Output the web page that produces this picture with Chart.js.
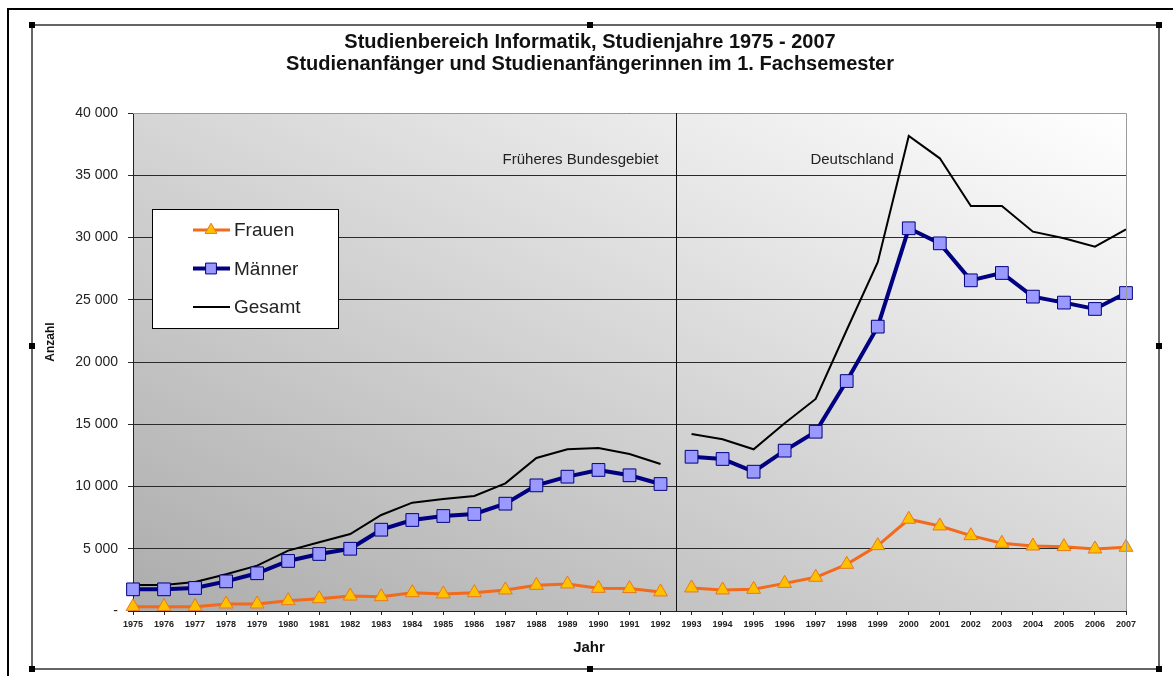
<!DOCTYPE html>
<html>
<head>
<meta charset="utf-8">
<script src="https://cdn.jsdelivr.net/npm/chart.js@4.4.0/dist/chart.umd.min.js"></script>
<style>
  html, body { margin: 0; padding: 0; background: #fff; }
  #wrap { width: 1173px; height: 676px; position: relative; }
</style>
</head>
<body>
<div id="wrap"><canvas id="chart"></canvas></div>
<script>
// Studienjahre
const years = ['1975','1976','1977','1978','1979','1980','1981','1982','1983','1984','1985','1986',
  '1987','1988','1989','1990','1991','1992','1993','1994','1995','1996','1997','1998','1999',
  '2000','2001','2002','2003','2004','2005','2006','2007'];

// Studienanfänger im 1. Fachsemester
const frauen = [350, 350, 350, 560, 560, 830, 990, 1200, 1150, 1470, 1370, 1470, 1690, 2060, 2170, 1820, 1800, 1530,
  1850, 1690, 1740, 2220, 2710, 3750, 5250, 7370, 6830, 6050, 5440, 5220, 5170, 4980, 5120];
const maenner = [1740, 1740, 1850, 2380, 3030, 4020, 4580, 5000, 6530, 7310, 7630, 7790, 8620, 10090, 10790, 11330, 10900, 10200,
  12390, 12210, 11190, 12880, 14400, 18470, 22840, 30740, 29530, 26560, 27150, 25250, 24770, 24260, 25540];
const gesamt = [2090, 2090, 2330, 2950, 3640, 4850, 5520, 6180, 7710, 8700, 9000, 9240, 10250, 12290, 12990, 13090, 12610, 11810,
  14220, 13790, 12990, 15080, 17030, 22570, 28010, 38150, 36360, 32530, 32530, 30470, 29940, 29260, 30660];

const seriesNames = ['Frauen', 'Männer', 'Gesamt'];
const regions = ['Früheres Bundesgebiet', 'Deutschland'];
const titleLines = ['Studienbereich Informatik, Studienjahre 1975 - 2007',
                    'Studienanfänger und Studienanfängerinnen im 1. Fachsemester'];
const axisTitles = ['Jahr', 'Anzahl'];
const lastWestYear = '1992';
const yMax = 40000;
const yStep = 5000;

const FONT = 'Arial, "Liberation Sans", sans-serif';
const splitAt = years.indexOf(lastWestYear);
const gapSegment = color => ({
  borderColor: c => c.p0DataIndex === splitAt ? 'rgba(0,0,0,0)' : color
});

function fmt(v) {
  if (v === 0) return '-';
  return String(v).replace(/\B(?=(\d{3})+(?!\d))/g, ' ');
}

// background, frame, divider, texts, legend
const decor = {
  id: 'decor',
  beforeDraw(chart) {
    const {ctx, chartArea: a} = chart;
    const w = a.width, h = a.height;
    const k = 2 * w * h / (w * w + h * h);
    const g = ctx.createLinearGradient(a.left, a.bottom, a.left + h * k, a.bottom - w * k);
    g.addColorStop(0, '#acacac');
    g.addColorStop(1, '#ffffff');
    ctx.save();
    ctx.fillStyle = g;
    ctx.fillRect(a.left, a.top, w, h);
    ctx.restore();
  },
  afterDatasetsDraw(chart) {
    const {ctx, chartArea: a, scales: {x, y}} = chart;
    ctx.save();
    // plot area border top / right
    ctx.strokeStyle = '#9a9a9a';
    ctx.lineWidth = 1;
    ctx.beginPath();
    ctx.moveTo(a.left, a.top + 0.5);
    ctx.lineTo(a.right + 0.5, a.top + 0.5);
    ctx.lineTo(a.right + 0.5, a.bottom);
    ctx.stroke();

    // divider between 1992 and 1993
    const xd = Math.round((x.getPixelForValue(splitAt) + x.getPixelForValue(splitAt + 1)) / 2) + 0.5;
    ctx.strokeStyle = '#111';
    ctx.beginPath();
    ctx.moveTo(xd, a.top);
    ctx.lineTo(xd, a.bottom);
    ctx.stroke();

    // region labels
    ctx.font = '15px ' + FONT;
    ctx.fillStyle = '#222';
    ctx.textAlign = 'right';
    ctx.textBaseline = 'middle';
    const ty = y.getPixelForValue(36200);
    ctx.fillText(regions[0], xd - 18, ty);
    ctx.fillText(regions[1], x.getPixelForValue(years.indexOf('2000')) - 15, ty);

    // legend
    const lx = 152, ly = 209, lw = 186, lh = 119;
    ctx.fillStyle = '#fff';
    ctx.fillRect(lx, ly, lw, lh);
    ctx.strokeStyle = '#000';
    ctx.strokeRect(lx + 0.5, ly + 0.5, lw, lh);
    ctx.font = '19px ' + FONT;
    ctx.textAlign = 'left';
    chart.data.datasets.forEach((ds, i) => {
      const cy = 230 + i * 38.5;
      ctx.strokeStyle = ds.borderColor;
      ctx.lineWidth = ds.borderWidth;
      ctx.beginPath();
      ctx.moveTo(193, cy);
      ctx.lineTo(230, cy);
      ctx.stroke();
      if (ds.pointRadius > 0) {
        ctx.fillStyle = ds.pointBackgroundColor;
        ctx.strokeStyle = ds.pointBorderColor;
        ctx.lineWidth = 1;
        Chart.helpers.drawPoint(ctx, {pointStyle: ds.pointStyle, radius: ds.pointRadius * 0.85, borderWidth: 1}, 211, cy);
      }
      ctx.fillStyle = '#222';
      ctx.fillText(ds.label, 234, cy + 1);
    });

    // title
    ctx.fillStyle = '#111';
    ctx.textAlign = 'center';
    ctx.font = 'bold 20px ' + FONT;
    titleLines.forEach((t, i) => ctx.fillText(t, 590, 42 + i * 22));

    // axis titles
    ctx.font = 'bold 15px ' + FONT;
    ctx.fillText(axisTitles[0], 589, 648);
    ctx.translate(51, 342);
    ctx.rotate(-Math.PI / 2);
    ctx.font = 'bold 12px ' + FONT;
    ctx.fillText(axisTitles[1], 0, 0);
    ctx.restore();
  },
  afterDraw(chart) {
    const ctx = chart.ctx;
    ctx.save();
    // window edge (top / left)
    ctx.strokeStyle = '#000';
    ctx.lineWidth = 2;
    ctx.beginPath();
    ctx.moveTo(8, 676);
    ctx.lineTo(8, 9);
    ctx.lineTo(1173, 9);
    ctx.stroke();
    // chart object frame
    ctx.strokeStyle = '#333';
    ctx.lineWidth = 1.5;
    ctx.strokeRect(32, 25, 1127, 644);
    // selection handles
    ctx.fillStyle = '#000';
    [[32, 25], [590, 25], [1159, 25], [32, 346], [1159, 346], [32, 669], [590, 669], [1159, 669]].forEach(p => {
      ctx.fillRect(p[0] - 3, p[1] - 3, 6, 6);
    });
    ctx.restore();
  }
};

new Chart(document.getElementById('chart'), {
  type: 'line',
  data: {
    labels: years,
    datasets: [{
      label: seriesNames[0],
      data: frauen,
      borderColor: '#f26a1b',
      borderWidth: 3,
      pointStyle: 'triangle',
      pointRadius: 8,
      pointBackgroundColor: '#ffc000',
      pointBorderColor: '#e8781e',
      pointBorderWidth: 1,
      segment: gapSegment('#f26a1b'),
      order: 1
    }, {
      label: seriesNames[1],
      data: maenner,
      borderColor: '#000080',
      borderWidth: 4,
      pointStyle: 'rect',
      pointRadius: 9,
      pointBackgroundColor: '#9999ff',
      pointBorderColor: '#000080',
      pointBorderWidth: 1,
      segment: gapSegment('#000080'),
      order: 2
    }, {
      label: seriesNames[2],
      data: gesamt,
      borderColor: '#000000',
      borderWidth: 2,
      pointRadius: 0,
      segment: gapSegment('#000000'),
      order: 3
    }]
  },
  options: {
    responsive: true,
    maintainAspectRatio: false,
    animation: false,
    layout: { padding: { left: 0, right: 47, top: 113, bottom: 0 } },
    plugins: {
      legend: { display: false },
      tooltip: { enabled: false },
      title: { display: false }
    },
    scales: {
      x: {
        offset: false,
        afterFit: s => { s.height = 65; },
        grid: { drawOnChartArea: false, drawTicks: true, tickLength: 4, color: '#222' },
        border: { display: true, color: '#222', width: 1 },
        ticks: {
          autoSkip: false, maxRotation: 0, minRotation: 0, padding: 4,
          color: '#222',
          font: { family: FONT, size: 9, weight: 'bold' }
        },
        title: { display: false, text: axisTitles[0] }
      },
      y: {
        min: 0, max: yMax,
        afterFit: s => { s.width = 133; },
        grid: { drawOnChartArea: true, drawTicks: true, tickLength: 5, color: '#2a2a2a', lineWidth: 1 },
        border: { display: true, color: '#222', width: 1 },
        ticks: {
          stepSize: yStep, padding: 10, color: '#222',
          font: { family: FONT, size: 14 },
          callback: v => fmt(v)
        },
        title: { display: false, text: axisTitles[1] }
      }
    }
  },
  plugins: [decor]
});
</script>
</body>
</html>
